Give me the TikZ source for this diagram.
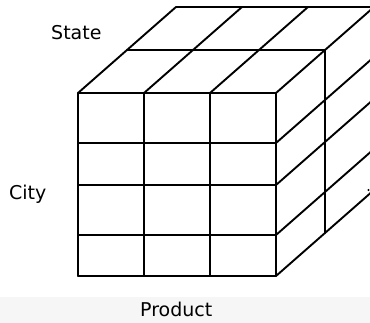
\documentclass[tikz,border=0pt]{standalone}
\usepackage{fontspec}
\setmainfont{DejaVu Sans}
\usepackage{xcolor}
\definecolor{band}{RGB}{246,246,246}

\tikzset{
  edge/.style={line width=1.9pt, black, line cap=round},
  axislabel/.style={font=\fontsize{19}{21}\selectfont, anchor=base west, inner sep=0pt}
}

\begin{document}
\begin{tikzpicture}[x=1pt, y=-1pt]
  % Frame
  \useasboundingbox (0,0) rectangle (370,323);
  \clip (0,0) rectangle (370,323);
  \fill[band] (0,297) rectangle (370,323);

  % Cube sizes
  \def\dx{49}
  \def\dy{43}

  % Front face
  \foreach \x in {78,144,210,276} {
    \draw[edge] (\x,93) -- (\x,276);
  }
  \foreach \y in {93,143,185,235,276} {
    \draw[edge] (78,\y) -- (276,\y);
  }

  % Top face
  \foreach \x in {78,144,210,276} {
    \draw[edge] (\x,93) -- ++(2*\dx,-2*\dy);
  }
  \foreach \d in {1,2} {
    \draw[edge] (78+\d*\dx, 93-\d*\dy) -- ++(198,0);
  }

  % Right face
  \foreach \y in {143,185,235,276} {
    \draw[edge] (276,\y) -- ++(2*\dx,-2*\dy);
  }
  \foreach \d in {1,2} {
    \draw[edge] (276+\d*\dx, 93-\d*\dy) -- ++(0,183);
  }
  \fill (368.5,190) circle (1.2pt);

  % Labels
  \node[axislabel] (state) at (51,40) {State};
  \node[axislabel] (city) at (9,200) {City};
  \node[axislabel] (product) at (140,317) {Product};
\end{tikzpicture}
\end{document}
